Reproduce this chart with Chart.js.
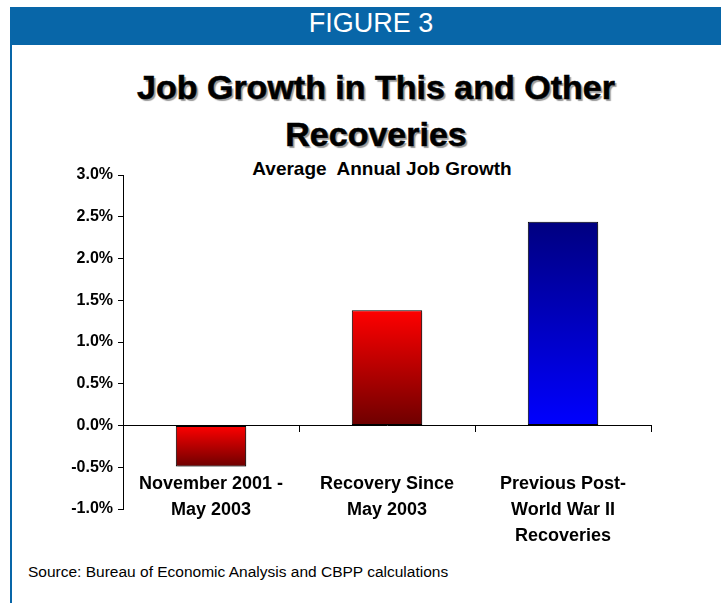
<!DOCTYPE html>
<html>
<head>
<meta charset="utf-8">
<script src="https://cdn.jsdelivr.net/npm/chart.js@4.4.1/dist/chart.umd.min.js"></script>
<style>
  html, body { margin: 0; padding: 0; background: #fff; }
  #wrap { position: relative; width: 726px; height: 603px; overflow: hidden; font-family: 'Liberation Sans', Arial, sans-serif; }
  #band { position: absolute; left: 10px; top: 7px; width: 711px; height: 38px; background: #0866a8; }
  #leftline { position: absolute; left: 10px; top: 44px; width: 2px; height: 559px; background: #0866a8; }
  .txt { position: absolute; white-space: pre; transform: translateX(-50%); }
  #fig { left: 371px; top: 10px; color: #fff; font-size: 27px; line-height: 27px; }
  #title { left: 376px; top: 64px; font-size: 34px; line-height: 47px; font-weight: bold; text-align: center;
           -webkit-text-stroke: 0.6px #000; text-shadow: 2px 2px 1px rgba(0,0,0,0.4); }
  #sub { left: 382px; top: 158px; font-size: 19px; line-height: 22px; font-weight: bold; }
  #src { position: absolute; left: 28px; top: 563px; font-size: 15.5px; line-height: 17px; }
  #c { position: absolute; left: 0; top: 0; }
</style>
</head>
<body>
<div id="wrap">
  <div id="band"></div>
  <div id="leftline"></div>
  <div class="txt" id="fig">FIGURE 3</div>
  <div class="txt" id="title">Job Growth in This and Other
Recoveries</div>
  <div class="txt" id="sub">Average  Annual Job Growth</div>
  <div id="src">Source: Bureau of Economic Analysis and CBPP calculations</div>
  <canvas id="c" width="726" height="603"></canvas>
</div>
<script>
// categories (multi-line labels)
const categories = [
  ['November 2001 -', 'May 2003'],
  ['Recovery Since', 'May 2003'],
  ['Previous Post-', 'World War II', 'Recoveries']
];
// average annual job growth, percent
const jobGrowth = [-0.49, 1.38, 2.44];
// y axis range
const yMin = -1.0;
const yMax = 3.0;
const yStep = 0.5;

// top / bottom colour of each bar's gradient
const barShades = [
  ['#ff0000', '#6e0000'],
  ['#ff0000', '#6e0000'],
  ['#000080', '#0000ff']
];

const FONT = "'Liberation Sans', Arial, sans-serif";

function barFill(ctx) {
  const chart = ctx.chart;
  if (!chart.chartArea) return barShades[ctx.dataIndex][0];
  const y = chart.scales.y;
  const a = y.getPixelForValue(0);
  const b = y.getPixelForValue(ctx.raw);
  const g = chart.ctx.createLinearGradient(0, Math.min(a, b), 0, Math.max(a, b));
  g.addColorStop(0, barShades[ctx.dataIndex][0]);
  g.addColorStop(1, barShades[ctx.dataIndex][1]);
  return g;
}

const barShadow = {
  id: 'barShadow',
  beforeDatasetsDraw(chart) {
    const c = chart.ctx;
    c.save();
    c.shadowColor = 'rgba(0,0,0,0.3)';
    c.shadowOffsetX = 2;
    c.shadowOffsetY = 2;
    c.shadowBlur = 2;
  },
  afterDatasetsDraw(chart) {
    chart.ctx.restore();
  }
};

new Chart(document.getElementById('c'), {
  type: 'bar',
  data: {
    labels: categories,
    datasets: [{
      data: jobGrowth,
      backgroundColor: barFill,
      borderColor: '#000',
      borderWidth: 1,
      borderSkipped: false,
      categoryPercentage: 1,
      barPercentage: 0.4
    }]
  },
  plugins: [barShadow],
  options: {
    responsive: false,
    animation: false,
    layout: { padding: { left: 0, right: 75, top: 175, bottom: 94 } },
    plugins: { legend: { display: false }, tooltip: { enabled: false } },
    scales: {
      x: {
        position: { y: 0 },
        grid: { drawOnChartArea: false, tickLength: 6, color: '#000', offset: true },
        border: { color: '#000', width: 1 },
        ticks: {
          color: '#000',
          padding: 40,
          maxRotation: 0,
          autoSkip: false,
          font: { family: FONT, size: 18, weight: 'bold', lineHeight: 26 / 18 }
        }
      },
      y: {
        min: yMin,
        max: yMax,
        afterFit(scale) { scale.width = 123; },
        grid: { drawOnChartArea: false, tickLength: 5, color: '#000' },
        border: { color: '#000', width: 1 },
        ticks: {
          stepSize: yStep,
          color: '#000',
          padding: 5,
          font: { family: FONT, size: 16, weight: 'bold' },
          callback: v => v.toFixed(1) + '%'
        }
      }
    }
  }
});
</script>
</body>
</html>
